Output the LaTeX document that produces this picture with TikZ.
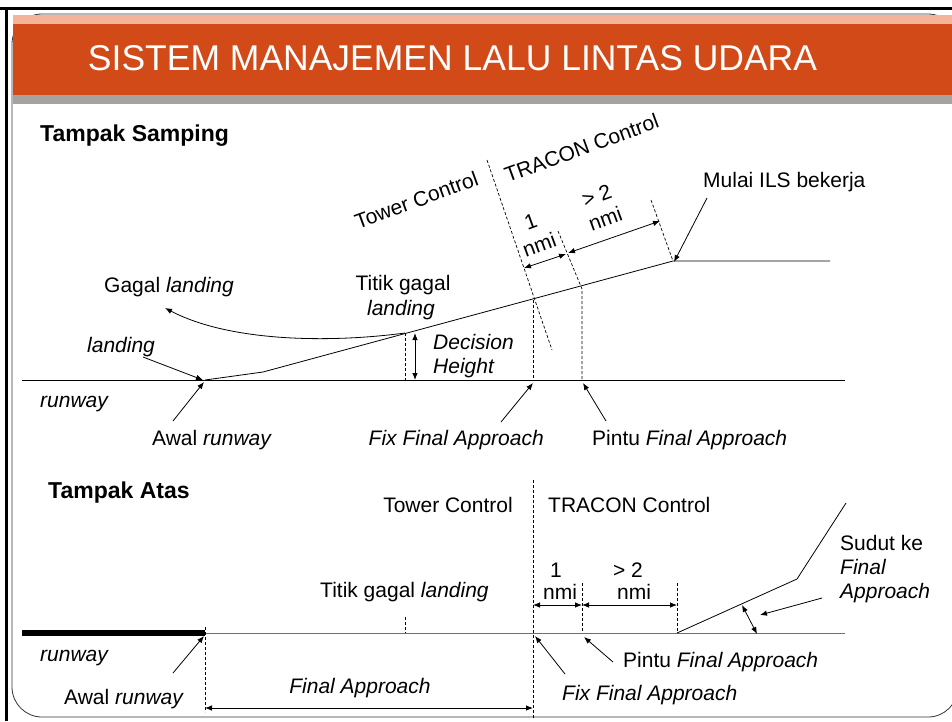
\documentclass[tikz,border=0pt]{standalone}
\usepackage{fontspec}
\usepackage{graphicx}
\setmainfont{Liberation Sans}
\usetikzlibrary{arrows.meta}
\definecolor{barorange}{RGB}{210,74,24}
\definecolor{barpeach}{RGB}{244,180,156}
\definecolor{bargray}{RGB}{166,162,160}
\definecolor{rwgray}{RGB}{110,110,110}
\begin{document}
\begin{tikzpicture}[x=1pt,y=-1pt,
  txt/.style={font=\fontsize{21}{25}\selectfont,inner sep=0pt},
  ttl/.style={font=\fontsize{23}{27}\selectfont\bfseries,inner sep=0pt,anchor=base west},
  ln/.style={line width=0.8pt},
  dashln/.style={line width=0.7pt,dash pattern=on 3pt off 2pt},
  arr/.style={line width=0.8pt,-{Latex[length=7pt,width=5.5pt]}},
  dimarr/.style={line width=0.8pt,{Latex[length=7pt,width=5.5pt]}-{Latex[length=7pt,width=5.5pt]}}]
\useasboundingbox (0,0) rectangle (952,721);
% frame
\draw[line width=0.8pt,black!80,rounded corners=30pt] (12,14) rectangle (958,717);
\draw[line width=3pt] (0,8) -- (952,8);
\draw[line width=3pt] (6,6.5) -- (6,721);
% title bar
\fill[barpeach] (13,15) rectangle (952,24);
\fill[barorange] (13,24) rectangle (952,95);
\fill[bargray] (13,95) rectangle (952,104);
\node[inner sep=0pt,anchor=base] (title) at (452.5,70)
  {\resizebox{729pt}{25pt}{\color{white}\fontsize{30}{30}\selectfont SISTEM MANAJEMEN LALU LINTAS UDARA}};

% ===== Tampak Samping =====
\node[ttl] (tsamp) at (40,141) {Tampak Samping};
\coordinate (rwL) at (22,380);
\coordinate (rwR) at (845,380);
\coordinate (td) at (205,380);
\coordinate (g1) at (263,372);
\coordinate (dh) at (405,333);
\coordinate (dhB) at (405,380);
\coordinate (fixT) at (533,300);
\coordinate (fixB) at (533,380);
\coordinate (ils) at (673,261);
\coordinate (lvl) at (830,261);
\draw[ln] (rwL) -- (rwR);
\draw[ln] (td) -- (g1) -- (ils) -- (lvl);
% decision height
\draw[dashln] (dh) -- (dhB);
\coordinate (dhaT) at (415,333);
\coordinate (dhaB) at (415,380);
\draw[dimarr] (dhaT) -- (dhaB);
\node[txt,anchor=base west] (dec1) at (433,349) {\itshape Decision};
\node[txt,anchor=base west] (dec2) at (433,373) {\itshape Height};
% missed approach
\coordinate (gagalTip) at (165,308);
\draw[arr] (dh) .. controls (330,343) and (230,342) .. (gagalTip);
\node[txt,anchor=base west] (gagal) at (104,292) {Gagal \textit{landing}};
\node[txt,anchor=base] (titik1) at (403,290) {Titik gagal};
\node[txt,anchor=base] (titik2) at (401,315) {\itshape landing};
% landing
\node[txt,anchor=base west] (land) at (87,352) {\itshape landing};
\coordinate (landS) at (143,357);
\coordinate (landE) at (203,380);
\draw[arr] (landS) -- (landE);
\node[txt,anchor=base west] (rw1) at (40,407) {\itshape runway};
\node[txt,anchor=base west] (awal1) at (152,445) {Awal \textit{runway}};
\coordinate (awalS) at (173,421);
\coordinate (awalE) at (204,382);
\draw[arr] (awalS) -- (awalE);
% fix final approach
\draw[dashln] (fixT) -- (fixB);
\node[txt,anchor=base east] (fix1) at (544,445) {\itshape Fix Final Approach};
\coordinate (fixS) at (501,422);
\coordinate (fixE) at (533,383);
\draw[arr] (fixS) -- (fixE);
% pintu final approach
\coordinate (pA) at (558,231);
\coordinate (pB) at (582,289);
\coordinate (pC) at (582,380);
\draw[dashln] (pA) -- (pB) -- (pC);
\node[txt,anchor=base west] (pintu1) at (592,445) {Pintu \textit{Final Approach}};
\coordinate (pintuS) at (606,421);
\coordinate (pintuE) at (583,383);
\draw[arr] (pintuS) -- (pintuE);
% boundary
\coordinate (bdT) at (487,160);
\coordinate (bdB) at (552,350);
\draw[dashln] (bdT) -- (bdB);
\node[txt,anchor=base,rotate=20] (tower1) at (419,207) {Tower Control};
\node[txt,anchor=base,rotate=20] (tracon1) at (584,155) {TRACON Control};
% ILS start
\coordinate (ilsT) at (651,200);
\draw[dashln] (ilsT) -- (ils);
\node[txt,anchor=base west] (mulai) at (703,187) {Mulai ILS bekerja};
\coordinate (mulaiS) at (707,198);
\draw[arr] (mulaiS) -- ([xshift=1pt,yshift=-1pt]ils);
% dimensions
\coordinate (d1a) at (524,268);
\coordinate (d1b) at (566,254);
\coordinate (d2a) at (568,253);
\coordinate (d2b) at (660,221);
\draw[dimarr] (d1a) -- (d1b);
\draw[dimarr] (d2a) -- (d2b);
\node[txt,align=center,rotate=20] (nmi1) at (535,233) {1\\nmi};
\node[txt,align=center,rotate=20] (nmi2) at (601,207) {> 2\\nmi};

% ===== Tampak Atas =====
\node[ttl] (tatas) at (48,498) {Tampak Atas};
\coordinate (trL) at (22,633);
\coordinate (trM) at (205,633);
\coordinate (trR) at (845,633);
\draw[line width=6pt] (trL) -- (trM);
\draw[ln,rwgray] (trM) -- (trR);
\coordinate (faT) at (205,627);
\coordinate (faB) at (205,712);
\draw[dashln] (faT) -- (faB);
\coordinate (tgT) at (405,617);
\coordinate (tgB) at (405,633);
\draw[dashln] (tgT) -- (tgB);
\coordinate (bd2T) at (533,480);
\coordinate (bd2B) at (533,718);
\draw[dashln] (bd2T) -- (bd2B);
\coordinate (p2T) at (582,583);
\coordinate (p2B) at (582,633);
\draw[dashln] (p2T) -- (p2B);
\coordinate (e2T) at (677,583);
\coordinate (e2B) at (677,633);
\draw[dashln] (e2T) -- (e2B);
\coordinate (dA) at (533,605);
\coordinate (dB) at (582,605);
\coordinate (dC) at (677,605);
\draw[dimarr] (dA) -- (dB);
\draw[dimarr] (dB) -- (dC);
\node[txt,anchor=base] (n1a) at (556,577) {1};
\node[txt,anchor=base] (n1b) at (560,599) {nmi};
\node[txt,anchor=base] (n2a) at (628,577) {> 2};
\node[txt,anchor=base] (n2b) at (634,599) {nmi};
\node[txt,anchor=base east] (tower2) at (513,512) {Tower Control};
\node[txt,anchor=base west] (tracon2) at (548,512) {TRACON Control};
\node[txt,anchor=base west] (titik3) at (320,597) {Titik gagal \textit{landing}};
% approach path
\coordinate (ap1) at (797,579);
\coordinate (ap2) at (846,503);
\draw[ln] (e2B) -- (ap1) -- (ap2);
\coordinate (angA) at (742,605);
\coordinate (angB) at (757,634);
\draw[dimarr] (angA) -- (angB);
\coordinate (sudS) at (822,598);
\coordinate (sudE) at (760,615);
\draw[arr] (sudS) -- (sudE);
\node[txt,anchor=base west] (sud1) at (840,550) {Sudut ke};
\node[txt,anchor=base west] (sud2) at (840,574) {\itshape Final};
\node[txt,anchor=base west] (sud3) at (840,598) {\itshape Approach};
% labels below
\node[txt,anchor=base west] (rw2) at (40,661) {\itshape runway};
\node[txt,anchor=base west] (awal2) at (64,704) {Awal \textit{runway}};
\coordinate (awal2S) at (173,673);
\coordinate (awal2E) at (204,636);
\draw[arr] (awal2S) -- (awal2E);
\coordinate (faL) at (205,708);
\coordinate (faR) at (533,708);
\draw[dimarr] (faL) -- (faR);
\node[txt,anchor=base] (fa) at (360,693) {\itshape Final Approach};
\node[txt,anchor=base west] (fix2) at (562,700) {\itshape Fix Final Approach};
\coordinate (fix2S) at (565,674);
\coordinate (fix2E) at (535,636);
\draw[arr] (fix2S) -- (fix2E);
\node[txt,anchor=base west] (pintu2) at (623,667) {Pintu \textit{Final Approach}};
\coordinate (pintu2S) at (613,662);
\coordinate (pintu2E) at (584,637);
\draw[arr] (pintu2S) -- (pintu2E);
\end{tikzpicture}
\end{document}
